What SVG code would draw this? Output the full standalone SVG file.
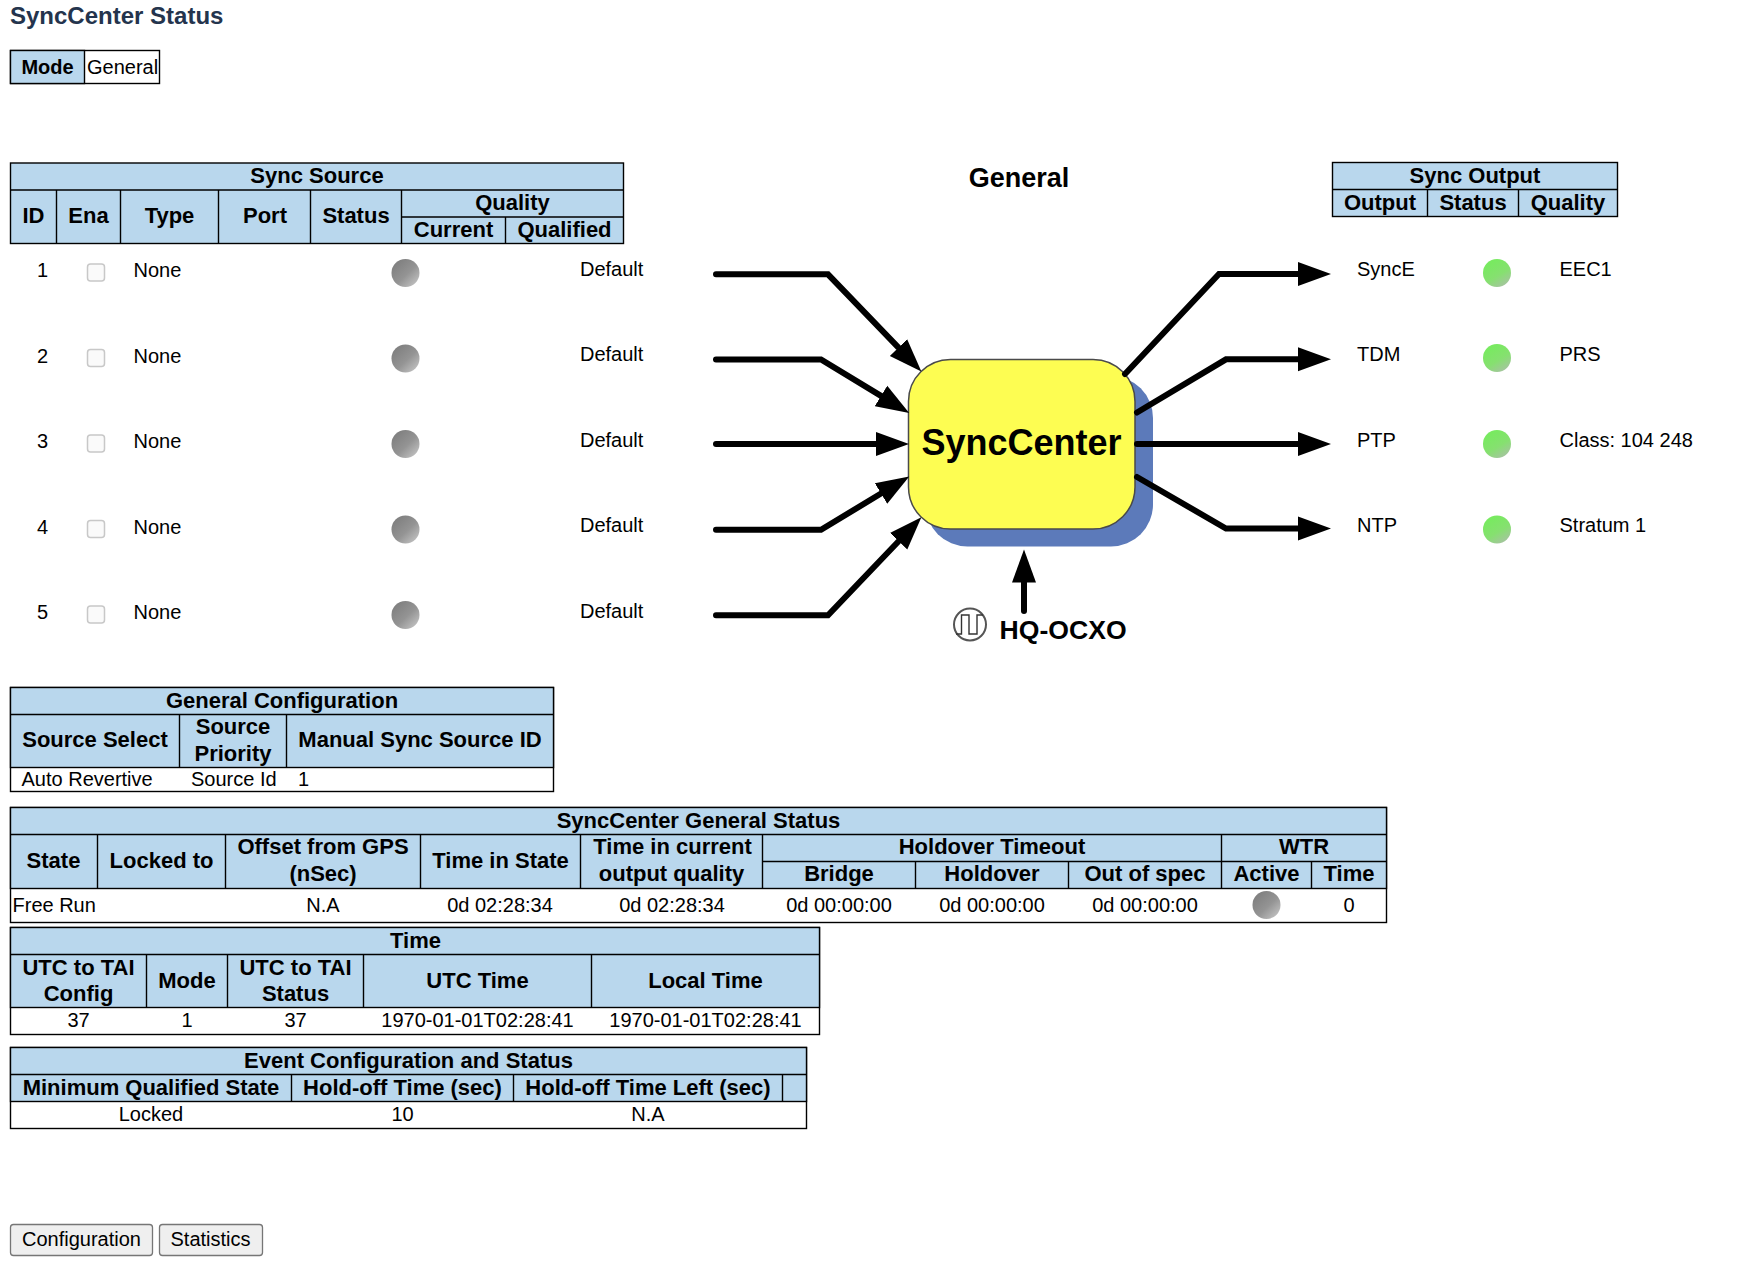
<svg xmlns="http://www.w3.org/2000/svg" width="1749" height="1276" viewBox="0 0 1749 1276">
<defs>
<linearGradient id="gGray" x1="0.15" y1="0.15" x2="0.85" y2="0.9"><stop offset="0" stop-color="#808080"/><stop offset="0.55" stop-color="#949494"/><stop offset="1" stop-color="#bdbdbd"/></linearGradient>
<linearGradient id="gGreen" x1="0.3" y1="0.1" x2="0.8" y2="0.95"><stop offset="0" stop-color="#78ea60"/><stop offset="0.55" stop-color="#86e070"/><stop offset="1" stop-color="#a6c4a0"/></linearGradient>
<marker id="head" markerUnits="userSpaceOnUse" markerWidth="35" markerHeight="26" refX="0" refY="13" orient="auto"><path d="M0,1 L33,13 L0,25 z" fill="#000"/></marker>
</defs>
<style>
text{font-family:"Liberation Sans",Arial,sans-serif;font-size:20px;fill:#000}
.h{font-weight:bold;font-size:22px;text-anchor:middle}
.c{text-anchor:middle}
.hd{fill:#b9d7ed;stroke:#000;stroke-width:1.4}
.bd{fill:#fff;stroke:#000;stroke-width:1.4}
.g{stroke:#000;stroke-width:1.4;fill:none}
.ledg{fill:url(#gGray)}
.ledn{fill:url(#gGreen)}
.cb{fill:#fafafa;stroke:#c8c8c8;stroke-width:1.5}
.wire{fill:none;stroke:#000;stroke-width:6;stroke-linejoin:miter;stroke-linecap:round;marker-end:url(#head)}
.btn{fill:#efefef;stroke:#767676;stroke-width:1.3}
</style>
<rect width="1749" height="1276" fill="#fff"/>

<g id="title"><text x="10" y="24" style="font-size:24px;font-weight:bold;fill:#24344d">SyncCenter Status</text></g>

<g id="mode-table">
<rect class="bd" x="10.5" y="50.5" width="149" height="33"/>
<rect class="hd" x="10.5" y="50.5" width="74" height="33"/>
<text class="c" x="47.5" y="74" style="font-weight:bold">Mode</text>
<text x="87" y="74">General</text>
</g>

<g id="sync-source-table">
<rect class="hd" x="10.5" y="163" width="613" height="80.5"/>
<path class="g" d="M10.5,190H623.5M401,217H623.5M56.5,190V243.5M120.5,190V243.5M218.5,190V243.5M310.5,190V243.5M401.5,190V243.5M505.5,217V243.5"/>
<text class="h" x="317" y="183">Sync Source</text>
<text class="h" x="33.5" y="223">ID</text>
<text class="h" x="88.5" y="223">Ena</text>
<text class="h" x="169.5" y="223">Type</text>
<text class="h" x="265" y="223">Port</text>
<text class="h" x="356" y="223">Status</text>
<text class="h" x="512.5" y="209.5">Quality</text>
<text class="h" x="453.5" y="237">Current</text>
<text class="h" x="564.5" y="237">Qualified</text>
</g>

<g id="source-1"><text class="c" x="42.5" y="277">1</text><rect class="cb" x="87.5" y="264" width="17" height="17" rx="3"/><text x="133.5" y="277">None</text><ellipse class="ledg" cx="405.5" cy="273" rx="14" ry="14"/><text x="580" y="276">Default</text></g>
<g id="source-2"><text class="c" x="42.5" y="363">2</text><rect class="cb" x="87.5" y="349.5" width="17" height="17" rx="3"/><text x="133.5" y="363">None</text><ellipse class="ledg" cx="405.5" cy="358.5" rx="14" ry="14"/><text x="580" y="361">Default</text></g>
<g id="source-3"><text class="c" x="42.5" y="448">3</text><rect class="cb" x="87.5" y="435" width="17" height="17" rx="3"/><text x="133.5" y="448">None</text><ellipse class="ledg" cx="405.5" cy="444" rx="14" ry="14"/><text x="580" y="447">Default</text></g>
<g id="source-4"><text class="c" x="42.5" y="534">4</text><rect class="cb" x="87.5" y="520.5" width="17" height="17" rx="3"/><text x="133.5" y="534">None</text><ellipse class="ledg" cx="405.5" cy="529.5" rx="14" ry="14"/><text x="580" y="532">Default</text></g>
<g id="source-5"><text class="c" x="42.5" y="619">5</text><rect class="cb" x="87.5" y="606" width="17" height="17" rx="3"/><text x="133.5" y="619">None</text><ellipse class="ledg" cx="405.5" cy="615" rx="14" ry="14"/><text x="580" y="618">Default</text></g>

<g id="general-heading"><text x="1019" y="187" style="font-size:27px;font-weight:bold;text-anchor:middle">General</text></g>

<g id="synccenter">
<rect x="925.5" y="376" width="227.5" height="170.5" rx="42" ry="42" fill="#5c7aba"/>
<rect x="908.5" y="359.5" width="226.5" height="169.5" rx="42" ry="42" fill="#fdfd52" stroke="#4a4a4a" stroke-width="1.5"/>
<text x="1021.5" y="454.5" style="font-size:36px;font-weight:bold;text-anchor:middle">SyncCenter</text>
</g>

<g id="connectors">
<path class="wire" d="M716,274.3H828L898.5,347.6"/>
<path class="wire" d="M716,359.4H821L881,395.9"/>
<path class="wire" d="M716,444H876"/>
<path class="wire" d="M716,529.8H821L881,493.5"/>
<path class="wire" d="M716,615.2H828L898.6,541.2"/>
<path class="wire" d="M1125,374L1219,274H1298"/>
<path class="wire" d="M1137,412.5L1226,359.3H1298"/>
<path class="wire" d="M1137,444H1298"/>
<path class="wire" d="M1137,477L1226,528.5H1298"/>
<path class="wire" d="M1024,611V582.5"/>
</g>

<g id="hq-ocxo">
<circle cx="970" cy="624.5" r="16" fill="#fff" stroke="#555" stroke-width="2"/>
<path d="M956,634H961.5V615H969V634H977V615H983" fill="none" stroke="#333" stroke-width="1.4"/>
<text x="999.5" y="638.5" style="font-size:26.6px;font-weight:bold">HQ-OCXO</text>
</g>

<g id="sync-output-table">
<rect class="hd" x="1332.5" y="162.5" width="285" height="54"/>
<path class="g" d="M1332.5,189.5H1617.5M1427.5,189.5V216.5M1518.5,189.5V216.5"/>
<text class="h" x="1475" y="183">Sync Output</text>
<text class="h" x="1380" y="210">Output</text>
<text class="h" x="1473" y="210">Status</text>
<text class="h" x="1568" y="210">Quality</text>
</g>

<g id="output-synce"><text x="1357" y="276">SyncE</text><ellipse class="ledn" cx="1497" cy="273" rx="14" ry="14"/><text x="1559.5" y="276">EEC1</text></g>
<g id="output-tdm"><text x="1357" y="361">TDM</text><ellipse class="ledn" cx="1497" cy="358" rx="14" ry="14"/><text x="1559.5" y="361">PRS</text></g>
<g id="output-ptp"><text x="1357" y="447">PTP</text><ellipse class="ledn" cx="1497" cy="444" rx="14" ry="14"/><text x="1559.5" y="447">Class: 104 248</text></g>
<g id="output-ntp"><text x="1357" y="532">NTP</text><ellipse class="ledn" cx="1497" cy="529.5" rx="14" ry="14"/><text x="1559.5" y="532">Stratum 1</text></g>

<g id="general-configuration">
<rect class="bd" x="10.5" y="687.5" width="543" height="104"/>
<rect class="hd" x="10.5" y="687.5" width="543" height="80"/>
<path class="g" d="M10.5,714.5H553.5M179.5,714.5V767.5M286.5,714.5V767.5"/>
<text class="h" x="282" y="708">General Configuration</text>
<text class="h" x="95" y="747">Source Select</text>
<text class="h" x="233" y="734">Source</text>
<text class="h" x="233" y="761">Priority</text>
<text class="h" x="420" y="747">Manual Sync Source ID</text>
<text x="21.5" y="786">Auto Revertive</text>
<text x="191" y="786">Source Id</text>
<text x="298" y="786">1</text>
</g>

<g id="general-status">
<rect class="bd" x="10.5" y="807.5" width="1376" height="115"/>
<rect class="hd" x="10.5" y="807.5" width="1376" height="81"/>
<path class="g" d="M10.5,834.5H1386.5M762.5,861.5H1386.5M97.5,834.5V888.5M225.5,834.5V888.5M420.5,834.5V888.5M580.5,834.5V888.5M762.5,834.5V888.5M1221.5,834.5V888.5M915.5,861.5V888.5M1068.5,861.5V888.5M1311.5,861.5V888.5"/>
<text class="h" x="698.5" y="828">SyncCenter General Status</text>
<text class="h" x="53.5" y="867.5">State</text>
<text class="h" x="161.5" y="867.5">Locked to</text>
<text class="h" x="323" y="854">Offset from GPS</text>
<text class="h" x="323" y="881">(nSec)</text>
<text class="h" x="500.5" y="867.5">Time in State</text>
<text class="h" x="672.5" y="854">Time in current</text>
<text class="h" x="671.5" y="881">output quality</text>
<text class="h" x="992" y="854">Holdover Timeout</text>
<text class="h" x="1304" y="854">WTR</text>
<text class="h" x="839" y="881">Bridge</text>
<text class="h" x="992" y="881">Holdover</text>
<text class="h" x="1145" y="881">Out of spec</text>
<text class="h" x="1266.5" y="881">Active</text>
<text class="h" x="1349" y="881">Time</text>
<text x="12.5" y="911.5">Free Run</text>
<text class="c" x="323" y="911.5">N.A</text>
<text class="c" x="500" y="911.5">0d 02:28:34</text>
<text class="c" x="672" y="911.5">0d 02:28:34</text>
<text class="c" x="839" y="911.5">0d 00:00:00</text>
<text class="c" x="992" y="911.5">0d 00:00:00</text>
<text class="c" x="1145" y="911.5">0d 00:00:00</text>
<ellipse class="ledg" cx="1266.5" cy="905" rx="14" ry="14"/>
<text class="c" x="1349" y="911.5">0</text>
</g>

<g id="time-table">
<rect class="bd" x="10.5" y="927.5" width="809" height="107"/>
<rect class="hd" x="10.5" y="927.5" width="809" height="80"/>
<path class="g" d="M10.5,954.5H819.5M146.5,954.5V1007.5M227.5,954.5V1007.5M363.5,954.5V1007.5M591.5,954.5V1007.5"/>
<text class="h" x="415.5" y="948">Time</text>
<text class="h" x="78.5" y="974.5">UTC to TAI</text>
<text class="h" x="78.5" y="1001">Config</text>
<text class="h" x="187" y="987.5">Mode</text>
<text class="h" x="295.5" y="974.5">UTC to TAI</text>
<text class="h" x="295.5" y="1001">Status</text>
<text class="h" x="477.5" y="987.5">UTC Time</text>
<text class="h" x="705.5" y="987.5">Local Time</text>
<text class="c" x="78.5" y="1027">37</text>
<text class="c" x="187" y="1027">1</text>
<text class="c" x="295.5" y="1027">37</text>
<text class="c" x="477.5" y="1027">1970-01-01T02:28:41</text>
<text class="c" x="705.5" y="1027">1970-01-01T02:28:41</text>
</g>

<g id="event-table">
<rect class="bd" x="10.5" y="1047.5" width="796" height="81"/>
<rect class="hd" x="10.5" y="1047.5" width="796" height="54"/>
<path class="g" d="M10.5,1074.5H806.5M291.5,1074.5V1101.5M513.5,1074.5V1101.5M782.5,1074.5V1101.5"/>
<text class="h" x="408.5" y="1068">Event Configuration and Status</text>
<text class="h" x="151" y="1094.5">Minimum Qualified State</text>
<text class="h" x="402.5" y="1094.5">Hold-off Time (sec)</text>
<text class="h" x="648" y="1094.5">Hold-off Time Left (sec)</text>
<text class="c" x="151" y="1121">Locked</text>
<text class="c" x="402.5" y="1121">10</text>
<text class="c" x="648" y="1121">N.A</text>
</g>

<g id="btn-configuration"><rect class="btn" x="10.5" y="1224.5" width="142" height="31" rx="3"/><text class="c" x="81.5" y="1246">Configuration</text></g>
<g id="btn-statistics"><rect class="btn" x="159.5" y="1224.5" width="103" height="31" rx="3"/><text class="c" x="210.5" y="1246">Statistics</text></g>
</svg>
